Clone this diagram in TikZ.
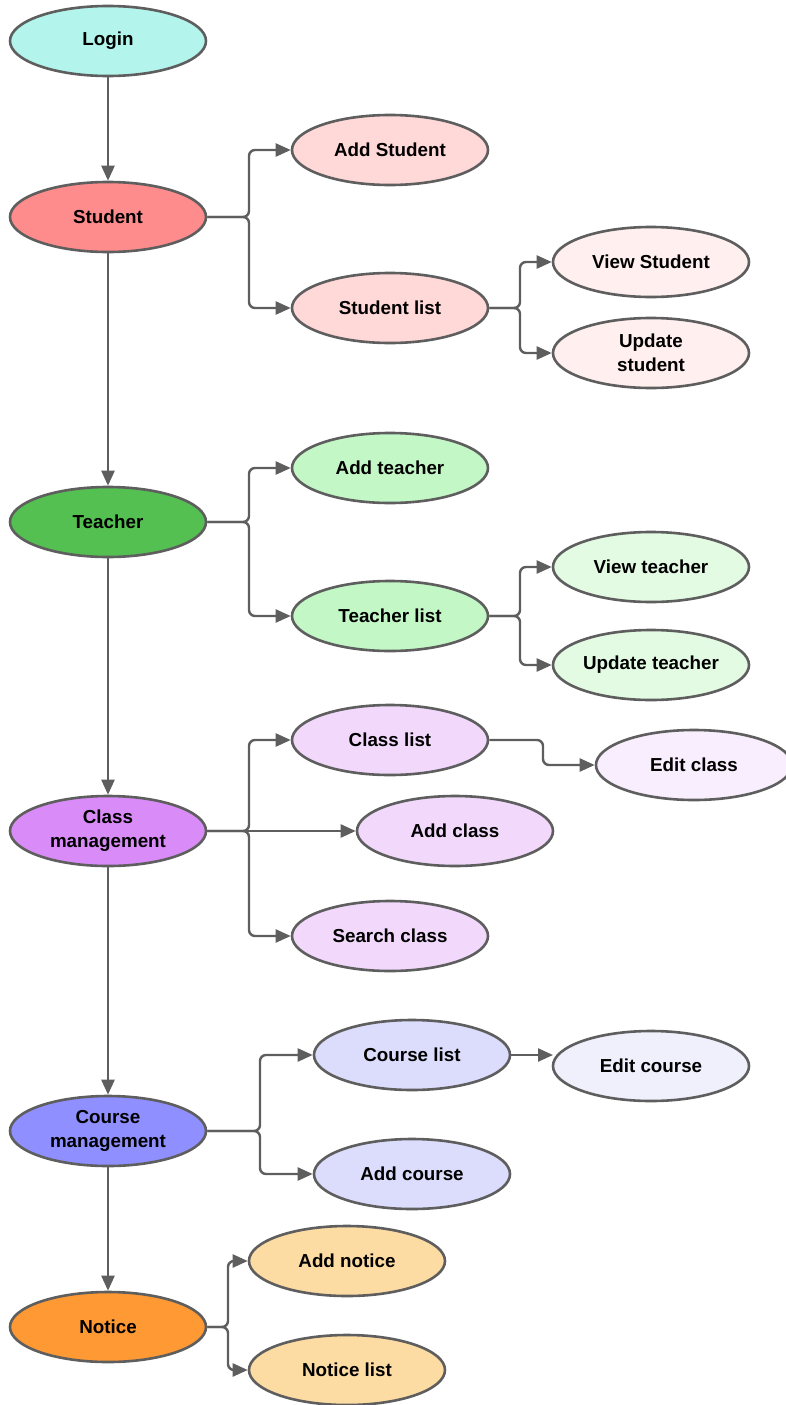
\documentclass[tikz,border=0pt]{standalone}
\usepackage{fontspec}
\setmainfont{Liberation Sans}
\usetikzlibrary{shapes.geometric,arrows.meta}
\definecolor{edge}{HTML}{5E5E5E}
\definecolor{cLogin}{HTML}{B3F5EC}
\definecolor{cStu}{HTML}{FF8C8C}
\definecolor{cStuA}{HTML}{FFD8D8}
\definecolor{cStuB}{HTML}{FFEFEF}
\definecolor{cTea}{HTML}{54C052}
\definecolor{cTeaA}{HTML}{C3F7C6}
\definecolor{cTeaB}{HTML}{E3FAE3}
\definecolor{cCls}{HTML}{D98CF7}
\definecolor{cClsA}{HTML}{F2D9FC}
\definecolor{cClsB}{HTML}{F9EEFD}
\definecolor{cCrs}{HTML}{8F8FFF}
\definecolor{cCrsA}{HTML}{DCDCFC}
\definecolor{cCrsB}{HTML}{F0F0FD}
\definecolor{cNot}{HTML}{FF9933}
\definecolor{cNotA}{HTML}{FDDCA4}
\tikzset{
  ell/.style={ellipse, draw=edge, line width=2.6pt, minimum width=196pt, minimum height=70pt,
    inner sep=0pt, align=center, font=\fontsize{18.8}{24}\selectfont\bfseries},
  conn/.style={draw=edge, line width=2.4pt, rounded corners=6pt,
    -{Triangle[length=15pt,width=13pt]}},
}
\begin{document}
\begin{tikzpicture}[x=1pt,y=-1pt]
\useasboundingbox (0,0) rectangle (785,1405);
% main column
\node[ell, fill=cLogin] (login) at (108,41) {Login};
\node[ell, fill=cStu] (stu) at (108,217) {Student};
\node[ell, fill=cTea] (tea) at (108,522) {Teacher};
\node[ell, fill=cCls] (cls) at (108,831) {Class\\management};
\node[ell, fill=cCrs] (crs) at (108,1131) {Course\\management};
\node[ell, fill=cNot] (not) at (108,1327) {Notice};
% student
\node[ell, fill=cStuA] (addstu) at (390,150) {Add Student};
\node[ell, fill=cStuA] (stulist) at (390,308) {Student list};
\node[ell, fill=cStuB] (viewstu) at (651,262) {View Student};
\node[ell, fill=cStuB] (updstu) at (651,353) {Update\\student};
% teacher
\node[ell, fill=cTeaA] (addtea) at (390,468) {Add teacher};
\node[ell, fill=cTeaA] (tealist) at (390,616) {Teacher list};
\node[ell, fill=cTeaB] (viewtea) at (651,567) {View teacher};
\node[ell, fill=cTeaB] (updtea) at (651,665) {Update teacher};
% class
\node[ell, fill=cClsA] (clslist) at (390,740) {Class list};
\node[ell, fill=cClsB] (editcls) at (694,765) {Edit class};
\node[ell, fill=cClsA] (addcls) at (455,831) {Add class};
\node[ell, fill=cClsA] (srchcls) at (390,936) {Search class};
% course
\node[ell, fill=cCrsA] (crslist) at (412,1055) {Course list};
\node[ell, fill=cCrsB] (editcrs) at (651,1066) {Edit course};
\node[ell, fill=cCrsA] (addcrs) at (412,1174) {Add course};
% notice
\node[ell, fill=cNotA] (addnot) at (347,1261) {Add notice};
\node[ell, fill=cNotA] (notlist) at (347,1370) {Notice list};
% junctions
\coordinate (jS) at (249,217);
\coordinate (jSL) at (520,308);
\coordinate (jT) at (249,522);
\coordinate (jTL) at (520,616);
\coordinate (jC) at (249,831);
\coordinate (jCL) at (543,740);
\coordinate (jK) at (260,1131);
\coordinate (jN) at (228,1327);
\coordinate (ecIn) at (553,1055);
% vertical flow
\draw[conn] (login) -- (stu);
\draw[conn] (stu) -- (tea);
\draw[conn] (tea) -- (cls);
\draw[conn] (cls) -- (crs);
\draw[conn] (crs) -- (not);
% student branches
\draw[conn] (stu.east) -- (jS) |- (addstu.west);
\draw[conn] (stu.east) -- (jS) |- (stulist.west);
\draw[conn] (stulist.east) -- (jSL) |- (viewstu.west);
\draw[conn] (stulist.east) -- (jSL) |- (updstu.west);
% teacher branches
\draw[conn] (tea.east) -- (jT) |- (addtea.west);
\draw[conn] (tea.east) -- (jT) |- (tealist.west);
\draw[conn] (tealist.east) -- (jTL) |- (viewtea.west);
\draw[conn] (tealist.east) -- (jTL) |- (updtea.west);
% class branches
\draw[conn] (cls.east) -- (jC) |- (clslist.west);
\draw[conn] (cls.east) -- (addcls.west);
\draw[conn] (cls.east) -- (jC) |- (srchcls.west);
\draw[conn] (clslist.east) -- (jCL) |- (editcls.west);
% course branches
\draw[conn] (crs.east) -- (jK) |- (crslist.west);
\draw[conn] (crs.east) -- (jK) |- (addcrs.west);
\draw[conn] (crslist.east) -- (ecIn);
% notice branches
\draw[conn] (not.east) -- (jN) |- (addnot.west);
\draw[conn] (not.east) -- (jN) |- (notlist.west);
\end{tikzpicture}
\end{document}
